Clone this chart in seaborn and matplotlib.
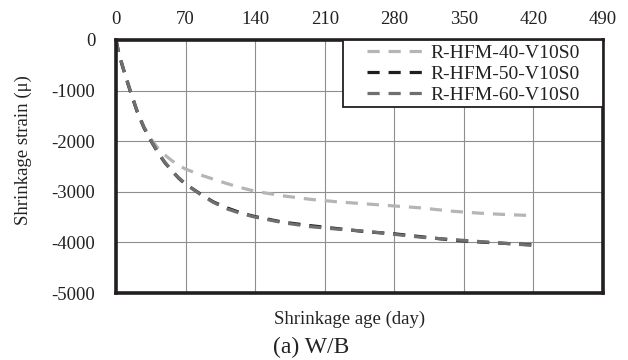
import numpy as np
import pandas as pd
import matplotlib
matplotlib.use("Agg")
import matplotlib.pyplot as plt
from matplotlib.patches import Rectangle
import seaborn as sns

# Shrinkage age (days)
days = [0, 3, 7, 14, 21, 28, 35, 42, 49, 56, 63, 70, 84, 98, 112, 126, 140,
        168, 196, 224, 252, 280, 308, 336, 364, 392, 420]

# Shrinkage strain (micro-strain) per mix
hfm40 = [0, -270, -540, -980, -1390, -1710, -1950, -2130, -2270, -2380, -2480,
         -2550, -2660, -2750, -2840, -2920, -2990, -3080, -3150, -3200, -3240,
         -3280, -3320, -3380, -3420, -3450, -3470]
hfm50 = [0, -280, -550, -990, -1400, -1730, -1990, -2220, -2420, -2580, -2730,
         -2850, -3030, -3200, -3320, -3420, -3490, -3600, -3670, -3730, -3790,
         -3830, -3890, -3950, -3990, -4020, -4050]
hfm60 = [0, -270, -540, -980, -1390, -1720, -1980, -2210, -2410, -2580, -2720,
         -2840, -3040, -3210, -3340, -3430, -3500, -3610, -3690, -3740, -3780,
         -3840, -3900, -3940, -3980, -4020, -4060]

series_names = ["R-HFM-40-V10S0", "R-HFM-50-V10S0", "R-HFM-60-V10S0"]
series_values = [hfm40, hfm50, hfm60]
colors = ["#b5b5b5", "#1e1e1e", "#6f6f6f"]

x_ticks = [0, 70, 140, 210, 280, 350, 420, 490]
y_ticks = [0, -1000, -2000, -3000, -4000, -5000]

df = pd.concat(
    [pd.DataFrame({"day": days, "strain": vals, "mix": name})
     for name, vals in zip(series_names, series_values)],
    ignore_index=True,
)

sns.set_style("white")
plt.rcParams["font.family"] = ["Liberation Serif", "DejaVu Serif"]
plt.rcParams["axes.unicode_minus"] = False

W, H = 628, 360
L, R, T, B = 116, 603, 40, 293
fig = plt.figure(figsize=(W / 100, H / 100), dpi=100)
ax = fig.add_axes([L / W, 1 - B / H, (R - L) / W, (B - T) / H])

sns.lineplot(
    data=df, x="day", y="strain", hue="mix", style="mix",
    palette=dict(zip(series_names, colors)),
    dashes={n: (3.8, 2.8) for n in series_names},
    linewidth=2.3, ax=ax, sort=False, estimator=None,
)

ax.set_xlim(0, 490)
ax.set_ylim(-5000, 0)
ax.set_xticks(x_ticks)
ax.set_yticks(y_ticks)
ax.xaxis.tick_top()
ax.tick_params(axis="both", length=0, labelsize=13.5, colors="#222222")
ax.tick_params(axis="x", pad=9)
ax.tick_params(axis="y", pad=15)
ax.grid(True, color="#8f8f8f", linewidth=0.8)
ax.set_axisbelow(True)
for side in ["left", "right", "top", "bottom"]:
    ax.spines[side].set_visible(True)
    ax.spines[side].set_color("#231f20")
    ax.spines[side].set_linewidth(2.6)

ax.set_xlabel("")
ax.set_ylabel("Shrinkage strain (μ)", fontsize=13.5, color="#222222")
ax.yaxis.set_label_coords((32 - L) / (R - L), (B - 150) / (B - T))

fig.text(350 / W, 1 - 319 / H, "Shrinkage age (day)", ha="center", va="center",
         fontsize=13.5, color="#222222")
fig.text(311 / W, 1 - 347 / H, "(a) W/B", ha="center", va="center",
         fontsize=17, color="#222222")

# Legend frame spanning the upper-right block of the plot
ax.add_patch(Rectangle(
    ((343 - L) / (R - L), (B - 107) / (B - T)),
    (R - 343) / (R - L), (107 - T) / (B - T),
    transform=ax.transAxes, facecolor="white", edgecolor="#231f20",
    linewidth=1.3, zorder=4, clip_on=False,
))

handles, labels = ax.get_legend_handles_labels()
leg = ax.legend(
    handles, labels, loc="upper left",
    bbox_to_anchor=((367 - L) / (R - L), 1 - 4 / (B - T)),
    borderaxespad=0, borderpad=0, frameon=False, fontsize=14,
    handlelength=2.9, handletextpad=0.35, labelspacing=0.18,
)
leg.set_zorder(5)
for t in leg.get_texts():
    t.set_color("#222222")

fig.savefig("out.png", dpi=100)
